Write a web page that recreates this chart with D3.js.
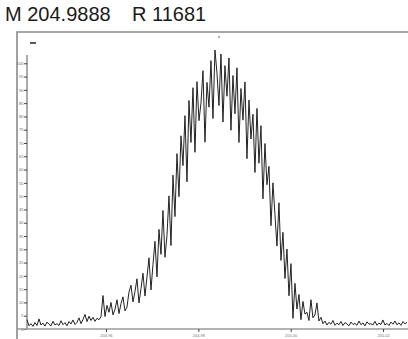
<!DOCTYPE html>
<html>
<head>
<meta charset="utf-8">
<script src="https://cdn.jsdelivr.net/npm/d3@7"></script>
<style>
  body { margin: 0; background: #fff; }
  svg { display: block; font-family: "Liberation Sans", Arial, sans-serif; }
</style>
</head>
<body>
<script>
/*** data ***/
const titleMass = "M 204.9888";
const titleRes = "R 11681";
const mzStart = 204.9429;      // m/z of first sample
const mzStep = 0.000433;       // spacing between samples
const xTicks = [204.96, 204.98, 205.00, 205.02];
const yTicks = [0, 5, 10, 15, 20, 25, 30, 35, 40, 45, 50, 55, 60, 65, 70, 75, 80, 85, 90, 95, 100];
// relative intensity (%), left to right
const intensity = [
  3.5, 1.2, 2.0, 1.0, 2.4, 1.3, 3.8, 1.5, 2.2, 1.1, 2.6, 1.8, 1.2, 2.9, 1.5, 2.0, 1.3, 3.1, 1.6, 2.4, 1.2, 2.8, 1.9, 3.4, 1.7,
  2.5, 4.2, 2.0, 3.6, 5.5, 2.8, 4.8, 3.2, 4.4, 2.9, 4.0, 3.5, 4.6,
  12.6, 4.7, 8.9, 6.3, 10.0, 5.3, 7.4, 11.0, 5.8, 9.5, 12.1, 6.8, 8.2, 13.9,
  16.5, 10.2, 14.1, 18.9, 9.8, 15.2, 21.0, 12.4,
  19.5, 26.8, 14.7, 24.3, 33.0, 19.6, 37.5, 28.1,
  44.6, 27.0, 35.2, 50.1, 31.4, 57.9, 42.3, 66.0,
  49.8, 72.7, 61.5, 80.3, 55.4, 86.0, 70.2, 90.8,
  66.5, 93.1, 78.4, 85.0, 97.2, 70.3, 92.8, 83.5,
  101.0, 79.2, 105.0, 96.3, 84.1, 103.5, 77.9, 99.1,
  87.6, 102.0, 74.8, 95.4, 81.0, 98.3, 70.2, 90.5,
  78.6, 93.0, 64.1, 86.2, 71.5, 80.8, 58.9, 83.0,
  62.4, 76.5, 49.0, 69.8, 54.3, 61.2, 38.9, 55.0,
  43.0, 31.2, 47.5, 25.8, 36.4, 19.0, 30.1, 12.5,
  24.6, 4.0, 17.2, 7.5, 13.0, 3.5, 10.4, 5.6,
  6.3, 3.2, 11.0, 4.2, 5.3, 9.8, 3.0, 4.4,
  2.0, 3.0, 1.5, 2.5, 1.8, 3.2, 1.4, 2.2, 1.6, 2.8, 1.3, 2.4, 1.9, 1.2, 2.6, 1.7, 2.1, 1.4, 3.0, 1.6, 2.3, 1.2,
  2.7, 1.8, 2.0, 1.5, 2.9, 1.4, 2.2, 1.7, 3.4, 1.5, 2.1, 1.3, 2.6, 1.8, 3.0, 1.6, 2.3, 1.4, 2.8, 1.9, 2.5
];

/*** layout ***/
const width = 408, height = 339;
const frameLeft = 17, frameTop = 32;
const axisX = 27, axisY = 329;

const svg = d3.select("body").append("svg")
  .attr("width", width)
  .attr("height", height);

const x = d3.scaleLinear().domain([204.9429, 205.0254]).range([27, 408]);
const y = d3.scaleLinear().domain([0, 105]).range([axisY, 50]);

// title
svg.append("text").attr("x", 5).attr("y", 21)
  .attr("font-size", 20).attr("fill", "#1a1a1a").text(titleMass);
svg.append("text").attr("x", 132).attr("y", 21)
  .attr("font-size", 20).attr("fill", "#1a1a1a").text(titleRes);

// outer frame (top + left)
svg.append("path")
  .attr("d", `M${frameLeft},${height} V${frameTop} H${width}`)
  .attr("fill", "none").attr("stroke", "#8a8a8a").attr("stroke-width", 1.6);

// small marks seen in the scan
svg.append("line").attr("x1", 30).attr("x2", 36).attr("y1", 43).attr("y2", 43)
  .attr("stroke", "#222").attr("stroke-width", 1.5);
svg.append("circle").attr("cx", 219).attr("cy", 37).attr("r", 1).attr("fill", "#999");

// y axis
const yAxis = svg.append("g")
  .attr("transform", `translate(${axisX},0)`)
  .call(d3.axisLeft(y).tickValues(yTicks).tickSize(3).tickFormat(d3.format("d")));
yAxis.select(".domain").attr("stroke", "#555").attr("d", `M0,55V${axisY}`);
yAxis.selectAll(".tick line").attr("stroke", "#444");
yAxis.selectAll(".tick text").attr("font-size", 4).attr("fill", "#666").attr("x", -3.5);

// x axis
svg.append("line").attr("x1", frameLeft).attr("x2", width).attr("y1", axisY).attr("y2", axisY)
  .attr("stroke", "#9a9a9a").attr("stroke-width", 1.6);
const xAxis = svg.append("g")
  .attr("transform", `translate(0,${axisY})`)
  .call(d3.axisBottom(x).tickValues(xTicks).tickSize(3).tickFormat(d3.format(".2f")));
xAxis.select(".domain").remove();
xAxis.selectAll(".tick line").attr("stroke", "#444");
xAxis.selectAll(".tick text").attr("font-size", 4).attr("fill", "#777").attr("dy", "0.5em");

// trace
const line = d3.line()
  .x((d, i) => x(mzStart + i * mzStep))
  .y(d => y(d));

svg.append("path")
  .datum(intensity)
  .attr("d", line)
  .attr("fill", "none")
  .attr("stroke", "#222")
  .attr("stroke-width", 1);
</script>
</body>
</html>
